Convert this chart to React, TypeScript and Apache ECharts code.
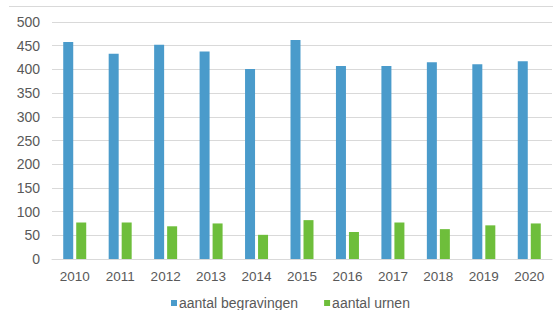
import React, { useEffect, useRef } from "react";
import * as echarts from "echarts";

const years = ["2010", "2011", "2012", "2013", "2014", "2015", "2016", "2017", "2018", "2019", "2020"];
const begravingen = [458, 433, 452, 438, 401, 462, 407, 407, 415, 411, 417];
const urnen = [77, 77, 69, 75, 51, 82, 57, 77, 63, 71, 75];

export default function App() {
  const ref = useRef<HTMLDivElement>(null);
  useEffect(() => {
    if (!ref.current) return;
    const chart = echarts.init(ref.current, null, { renderer: "svg" });
    const font = "Liberation Sans, Arial, sans-serif";
    chart.setOption({
      animation: false,
      backgroundColor: "#ffffff",
      grid: { left: 52, right: 1, top: 22, bottom: 51, containLabel: false },
      graphic: [
        {
          type: "line",
          shape: { x1: 9, y1: 6.5, x2: 553, y2: 6.5 },
          style: { stroke: "#d9d9d9", lineWidth: 1 },
        },
      ],
      legend: {
        top: 291,
        left: 166,
        itemWidth: 6,
        itemHeight: 6,
        itemGap: 26,
        icon: "rect",
        textStyle: { fontFamily: font, fontSize: 14, color: "#595959", padding: [0, 0, 0, -3] },
        data: ["aantal begravingen", "aantal urnen"],
      },
      xAxis: {
        type: "category",
        data: years,
        axisLine: { lineStyle: { color: "#d9d9d9" } },
        axisTick: { show: false },
        axisLabel: { fontFamily: font, fontSize: 13.5, color: "#595959", margin: 10 },
      },
      yAxis: {
        type: "value",
        min: 0,
        max: 500,
        interval: 50,
        axisLine: { show: false },
        axisTick: { show: false },
        splitLine: { lineStyle: { color: "#d9d9d9" } },
        axisLabel: { fontFamily: font, fontSize: 14, color: "#595959", margin: 12 },
      },
      series: [
        {
          name: "aantal begravingen",
          type: "bar",
          data: begravingen,
          barWidth: 10,
          barGap: "30%",
          itemStyle: { color: "#4a9bcb" },
        },
        {
          name: "aantal urnen",
          type: "bar",
          data: urnen,
          barWidth: 10,
          itemStyle: { color: "#6ebe3b" },
        },
      ],
    });
    return () => chart.dispose();
  }, []);
  return (
    <div
      ref={ref}
      style={{ position: "fixed", left: 0, top: 0, width: 553, height: 310 }}
    />
  );
}
